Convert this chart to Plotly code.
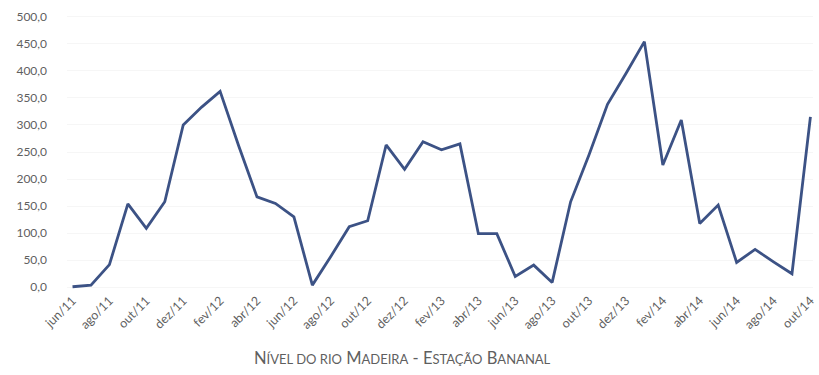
import plotly.graph_objects as go

# Monthly river level readings, jun/2011 .. out/2014
months = ["jun/11", "jul/11", "ago/11", "set/11", "out/11", "nov/11", "dez/11",
          "jan/12", "fev/12", "mar/12", "abr/12", "mai/12", "jun/12", "jul/12",
          "ago/12", "set/12", "out/12", "nov/12", "dez/12", "jan/13", "fev/13",
          "mar/13", "abr/13", "mai/13", "jun/13", "jul/13", "ago/13", "set/13",
          "out/13", "nov/13", "dez/13", "jan/14", "fev/14", "mar/14", "abr/14",
          "mai/14", "jun/14", "jul/14", "ago/14", "set/14", "out/14"]
nivel = [1, 4, 42, 154, 109, 158, 300,
         333, 362, 262, 167, 155, 130, 4,
         57, 112, 123, 263, 218, 269, 254,
         265, 99, 99, 20, 41, 9, 158,
         245, 338, 395, 454, 226, 309, 118,
         152, 46, 70, 47, 25, 315]

y_ticks = [0, 50, 100, 150, 200, 250, 300, 350, 400, 450, 500]
y_ticktext = [f"{v:.1f}".replace(".", ",") for v in y_ticks]

x_idx = list(range(len(months)))
x_tickvals = x_idx[::2]
x_ticktext = months[::2]

fig = go.Figure()
fig.add_trace(go.Scatter(
    x=x_idx, y=nivel, mode="lines",
    line=dict(color="#3c5285", width=2.8),
    hoverinfo="skip", showlegend=False,
))

gray = "#5f5f5f"
M_L, M_R, M_T, M_B = 67, 6, 14, 85
fig.update_layout(
    width=819, height=375,
    margin=dict(l=M_L, r=M_R, t=M_T, b=M_B),
    paper_bgcolor="white", plot_bgcolor="white",
    font=dict(family="Lato, Open Sans, sans-serif", color=gray, size=12),
    xaxis=dict(
        range=[-0.3, 40.14], automargin=False,
        tickmode="array", tickvals=x_tickvals, ticktext=x_ticktext,
        tickangle=-45, showgrid=False, zeroline=False, showline=False,
        ticks="", tickfont=dict(size=12.5, color=gray),
        ticklabeloverflow="allow",
    ),
    yaxis=dict(
        range=[-5, 505], automargin=False,
        tickmode="array", tickvals=y_ticks, ticktext=y_ticktext,
        showgrid=True, gridcolor="#f6f6f6", gridwidth=1,
        zeroline=False, showline=False, ticks="",
        tickfont=dict(size=12, color=gray), ticklabelstandoff=19,
    ),
)

# caption below the axis, positioned in pixels and converted to paper units
plot_w = 819 - M_L - M_R
plot_h = 375 - M_T - M_B
small = "<span style='font-size:13px'>{}</span>"
fig.add_annotation(
    text=("N" + small.format("ÍVEL DO RIO") + " "
          "M" + small.format("ADEIRA") + " - "
          "E" + small.format("STAÇÃO") + " "
          "B" + small.format("ANANAL")),
    x=(402 - M_L) / plot_w, xref="paper", xanchor="center",
    y=(375 - M_B - 358) / plot_h, yref="paper", yanchor="middle",
    showarrow=False, font=dict(size=16.5, color=gray),
)

fig.write_html("out.html")
